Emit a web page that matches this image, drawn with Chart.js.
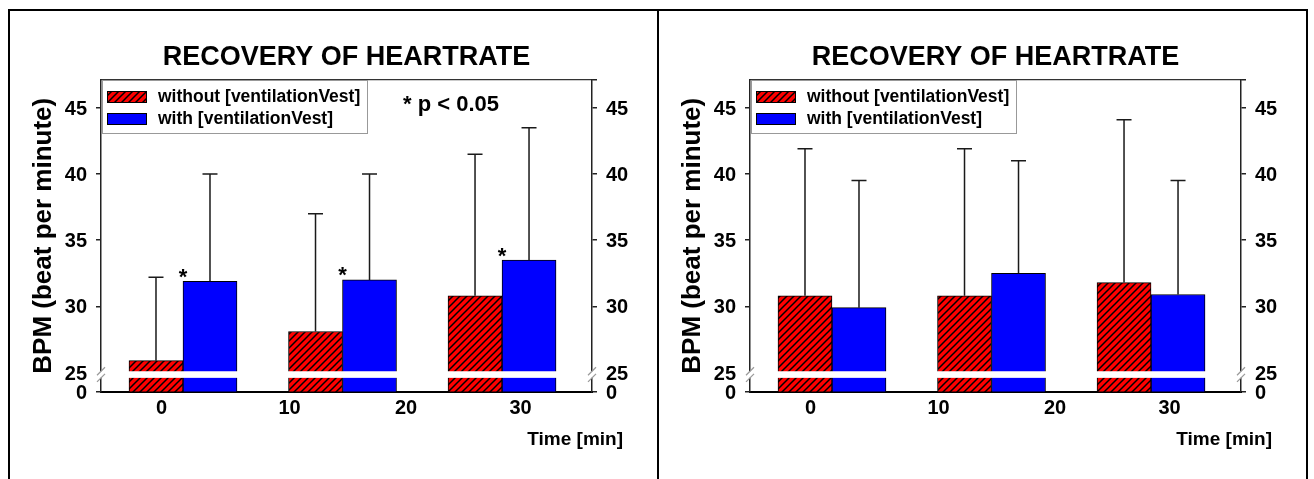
<!DOCTYPE html>
<html>
<head>
<meta charset="utf-8">
<script src="https://cdn.jsdelivr.net/npm/chart.js@4.4.1/dist/chart.umd.min.js"></script>
<style>
  html, body { margin: 0; padding: 0; background: #fff; overflow: hidden; width: 1314px; height: 479px; }
  .frame { position: absolute; top: 9px; width: 647px; height: 480px; border: 2px solid #000; }
  #frameA { left: 8px; }
  #frameB { left: 657px; }
  canvas { display: block; }
</style>
</head>
<body>
<div id="frameA" class="frame"><canvas id="panelA" width="647" height="468"></canvas></div>
<div id="frameB" class="frame"><canvas id="panelB" width="647" height="468"></canvas></div>
<script>
// groups sit at 1, 2, 3 on the bar axis; the time labels are placed where the original put them
const GROUP_POS = [1, 2, 3];
const X_MIN = 0.486;
const X_MAX = 3.564;
const X_TICK_POS = [0.865, 1.668, 2.398, 3.116];
const X_TICK_LABELS = ['0', '10', '20', '30'];

// broken y axis: 25..47 above the break, "0" sits just under it
const Y_BREAK_BASE = 23.57;
const Y_MAX = 47.1;
const Y_TICK_VALUES = [Y_BREAK_BASE, 25, 30, 35, 40, 45];
const Y_TICK_LABELS = ['0', '25', '30', '35', '40', '45'];
const BREAK_TOP = 25.1;
const BREAK_BOTTOM = 24.6;

const SERIES_LABELS = ['without [ventilationVest]', 'with [ventilationVest]'];

// left panel
const WITHOUT_MEAN_A = [25.9, 28.1, 30.8];
const WITHOUT_SD_A = [6.3, 8.9, 10.7];
const WITH_MEAN_A = [31.9, 32.0, 33.5];
const WITH_SD_A = [8.1, 8.0, 10.0];
const SIG_A = [true, true, true];

// right panel
const WITHOUT_MEAN_B = [30.8, 30.8, 31.8];
const WITHOUT_SD_B = [11.1, 11.1, 12.3];
const WITH_MEAN_B = [29.9, 32.5, 30.9];
const WITH_SD_B = [9.6, 8.5, 8.6];
const SIG_B = [false, false, false];

const FONT = '"Liberation Sans", Arial, Helvetica, sans-serif';
Chart.defaults.font.family = FONT;
Chart.defaults.color = '#000';

function hatchPattern(ctx) {
  const c = document.createElement('canvas');
  c.width = 7; c.height = 7;
  const g = c.getContext('2d');
  g.fillStyle = '#ff0000';
  g.fillRect(0, 0, 7, 7);
  g.strokeStyle = '#000';
  g.lineWidth = 1.5;
  g.beginPath();
  g.moveTo(-1, 8); g.lineTo(8, -1);
  g.moveTo(-1, 1); g.lineTo(1, -1);
  g.moveTo(6, 8); g.lineTo(8, 6);
  g.stroke();
  return ctx.createPattern(c, 'repeat');
}

// white gap through the bars + the little // marks on both axes
const axisBreak = {
  id: 'axisBreak',
  afterDatasetsDraw(chart) {
    const { ctx, chartArea: a, scales: { y } } = chart;
    const y1 = y.getPixelForValue(BREAK_TOP);
    const y2 = y.getPixelForValue(BREAK_BOTTOM);
    ctx.save();
    ctx.fillStyle = '#fff';
    ctx.fillRect(a.left - 7, y1, a.right - a.left + 14, y2 - y1);
    ctx.strokeStyle = '#9a9a9a';
    ctx.lineWidth = 1.2;
    [a.left, a.right].forEach(x => {
      [y1, y2].forEach(yy => {
        ctx.beginPath();
        ctx.moveTo(x - 4, yy + 4);
        ctx.lineTo(x + 4, yy - 4);
        ctx.stroke();
      });
    });
    ctx.restore();
  }
};

const errorBars = {
  id: 'errorBars',
  afterDatasetsDraw(chart) {
    const { ctx, scales: { y } } = chart;
    ctx.save();
    ctx.strokeStyle = '#1a1a1a';
    ctx.lineWidth = 1.5;
    chart.data.datasets.forEach((ds, i) => {
      chart.getDatasetMeta(i).data.forEach((bar, j) => {
        const top = y.getPixelForValue(ds.data[j].y + ds.sd[j]);
        ctx.beginPath();
        ctx.moveTo(bar.x, bar.y);
        ctx.lineTo(bar.x, top);
        ctx.moveTo(bar.x - 7.5, top);
        ctx.lineTo(bar.x + 7.5, top);
        ctx.stroke();
      });
    });
    // significance stars over the "with" bars
    const withDs = chart.data.datasets[1];
    ctx.fillStyle = '#000';
    ctx.font = 'bold 22px ' + FONT;
    ctx.textAlign = 'center';
    ctx.textBaseline = 'middle';
    chart.getDatasetMeta(1).data.forEach((bar, j) => {
      if (!withDs.sig[j]) return;
      ctx.fillText('*', bar.x - bar.width / 2, bar.y - 3.5);
    });
    ctx.restore();
  }
};

const boxLegend = {
  id: 'boxLegend',
  afterDraw(chart, args, opts) {
    const { ctx, chartArea: a } = chart;
    ctx.save();
    ctx.fillStyle = '#fff';
    ctx.fillRect(a.left + 1, a.top, 265, 53);
    ctx.strokeStyle = '#999';
    ctx.lineWidth = 1;
    ctx.strokeRect(a.left + 1.5, a.top + 0.5, 265, 53);
    ctx.font = 'bold 17.5px ' + FONT;
    ctx.textAlign = 'left';
    ctx.textBaseline = 'middle';
    chart.data.datasets.forEach((ds, i) => {
      const sy = a.top + 11 + i * 22;
      ctx.fillStyle = ds.backgroundColor;
      ctx.fillRect(a.left + 6, sy, 40, 12);
      ctx.strokeStyle = '#000';
      ctx.strokeRect(a.left + 6.5, sy + 0.5, 39, 11);
      ctx.fillStyle = '#000';
      ctx.fillText(ds.label, a.left + 57, sy + 6);
    });
    if (opts.note) {
      ctx.font = 'bold 22px ' + FONT;
      ctx.fillText(opts.note, a.left + 302, a.top + 25);
    }
    // x axis title, right-aligned past the right axis like the original
    ctx.font = 'bold 19px ' + FONT;
    ctx.textAlign = 'right';
    ctx.fillText(opts.xTitle, a.right + 31, a.bottom + 48);
    ctx.restore();
  }
};

function makeChart(id, withoutMean, withoutSd, withMean, withSd, sig, note) {
  const canvas = document.getElementById(id);
  const ctx = canvas.getContext('2d');
  const tickFont = { size: 20, weight: 'bold' };
  return new Chart(ctx, {
    type: 'bar',
    data: {
      datasets: [
        {
          label: SERIES_LABELS[0],
          data: GROUP_POS.map((x, i) => ({ x, y: withoutMean[i] })),
          sd: withoutSd,
          backgroundColor: hatchPattern(ctx),
          borderColor: '#000',
          borderWidth: 1
        },
        {
          label: SERIES_LABELS[1],
          data: GROUP_POS.map((x, i) => ({ x, y: withMean[i] })),
          sd: withSd,
          sig: sig,
          backgroundColor: '#0000ff',
          borderColor: '#000',
          borderWidth: 1
        }
      ]
    },
    options: {
      responsive: false,
      animation: false,
      devicePixelRatio: 1,
      barThickness: 54,
      layout: { padding: { left: 0, right: 0, top: 0, bottom: 54.5 } },
      scales: {
        x: {
          type: 'linear', position: 'bottom', offset: false,
          min: X_MIN, max: X_MAX,
          afterBuildTicks: s => { s.ticks = X_TICK_POS.map(v => ({ value: v })); },
          ticks: { autoSkip: false, maxRotation: 0, padding: 4.5, color: '#000', font: tickFont,
                   callback: (v, i) => X_TICK_LABELS[i] },
          grid: { display: false, drawTicks: false },
          border: { display: true, color: '#000', width: 2 }
        },
        xTop: {
          type: 'linear', position: 'top', offset: false,
          min: X_MIN, max: X_MAX,
          ticks: { display: false },
          grid: { display: false, drawTicks: false },
          border: { display: true, color: '#333', width: 1.2 },
          afterFit: s => { s.height = 0; }
        },
        y: {
          type: 'linear', position: 'left', beginAtZero: false,
          min: Y_BREAK_BASE, max: Y_MAX,
          afterBuildTicks: s => { s.ticks = Y_TICK_VALUES.map(v => ({ value: v })); },
          afterFit: s => { s.width = 91; },
          ticks: { autoSkip: false, padding: 9, labelOffset: 1.5, color: '#000', font: tickFont,
                   callback: (v, i) => Y_TICK_LABELS[i] },
          grid: { drawOnChartArea: false, drawTicks: true, tickLength: 5, color: '#222', lineWidth: 1.5 },
          border: { display: true, color: '#222', width: 1.5 },
          title: { display: true, text: 'BPM (beat per minute)', color: '#000',
                   font: { size: 26, weight: 'bold' }, padding: { top: 18, bottom: 0 } }
        },
        y2: {
          type: 'linear', position: 'right', beginAtZero: false,
          min: Y_BREAK_BASE, max: Y_MAX,
          afterBuildTicks: s => { s.ticks = Y_TICK_VALUES.concat([Y_MAX]).map(v => ({ value: v })); },
          afterFit: s => { s.width = 65; },
          ticks: { autoSkip: false, padding: 9, labelOffset: 1.5, color: '#000', font: tickFont,
                   callback: (v, i) => (Y_TICK_LABELS[i] || '') },
          grid: { drawOnChartArea: false, drawTicks: true, tickLength: 5, color: '#222', lineWidth: 1.5 },
          border: { display: true, color: '#222', width: 1.5 }
        }
      },
      plugins: {
        legend: { display: false },
        tooltip: { enabled: false },
        title: {
          display: true, text: 'RECOVERY OF HEARTRATE', fullSize: false, color: '#000',
          font: { size: 27, weight: 'bold' }, padding: { top: 30.8, bottom: 5.8 }
        },
        boxLegend: { note: note, xTitle: 'Time [min]' }
      }
    },
    plugins: [axisBreak, errorBars, boxLegend]
  });
}

makeChart('panelA', WITHOUT_MEAN_A, WITHOUT_SD_A, WITH_MEAN_A, WITH_SD_A, SIG_A, '* p < 0.05');
makeChart('panelB', WITHOUT_MEAN_B, WITHOUT_SD_B, WITH_MEAN_B, WITH_SD_B, SIG_B, null);
</script>
</body>
</html>
